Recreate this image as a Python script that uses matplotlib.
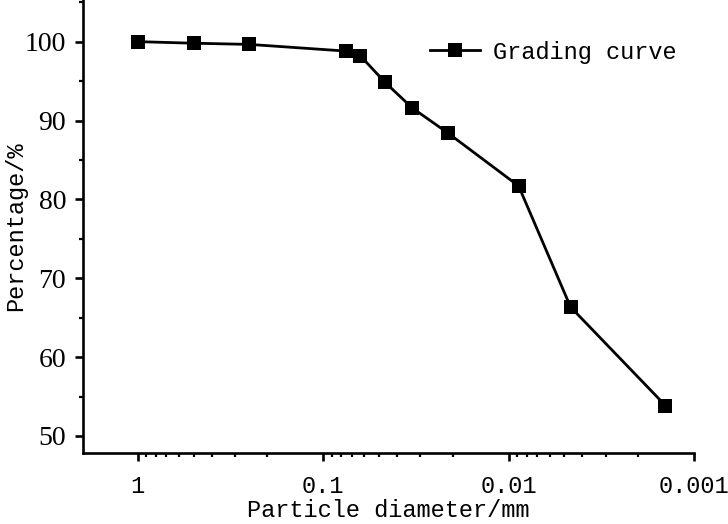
import matplotlib
matplotlib.use("Agg")
import matplotlib.pyplot as plt
from matplotlib.ticker import FixedLocator, FixedFormatter, LogLocator, NullFormatter, MultipleLocator

diameter_mm = [1.0, 0.5, 0.25, 0.075, 0.063, 0.0464, 0.0331, 0.0212, 0.00883, 0.00463, 0.001425]
percentage = [100.0, 99.8, 99.65, 98.8, 98.2, 94.85, 91.6, 88.4, 81.7, 66.35, 53.85]
x_ticks = [1, 0.1, 0.01, 0.001]
x_tick_labels = ["1", "0.1", "0.01", "0.001"]
y_ticks = [50, 60, 70, 80, 90, 100]
series_name = "Grading curve"

mono = ["Liberation Mono", "DejaVu Sans Mono"]
serif = ["Liberation Serif", "DejaVu Serif"]

fig = plt.figure(figsize=(7.28, 5.24), dpi=100)
ax = fig.add_axes([82.7/728, 1-453/524, (694-82.7)/728, 453/524])

ax.plot(diameter_mm, percentage, color="black", lw=2.0, marker="s", ms=10,
        markeredgewidth=0, label=series_name)

ax.set_xscale("log")
ax.set_xlim(1.98, 0.001)
ax.set_ylim(47.84, 105.28)

ax.xaxis.set_major_locator(FixedLocator(x_ticks))
ax.xaxis.set_major_formatter(FixedFormatter(x_tick_labels))
ax.xaxis.set_minor_locator(LogLocator(base=10, subs=range(2, 10), numticks=20))
ax.xaxis.set_minor_formatter(NullFormatter())
ax.yaxis.set_major_locator(FixedLocator(y_ticks))
ax.yaxis.set_minor_locator(MultipleLocator(5))

for s in ["top", "right"]:
    ax.spines[s].set_visible(False)
for s in ["left", "bottom"]:
    ax.spines[s].set_linewidth(1.9)

ax.tick_params(axis="both", which="major", direction="out", length=6, width=1.9)
ax.tick_params(axis="both", which="minor", direction="out", length=3, width=1.6)
ax.tick_params(axis="x", which="major", pad=10)
ax.tick_params(axis="y", which="major", pad=6)

for lab in ax.get_xticklabels():
    lab.set_fontfamily(mono)
    lab.set_fontsize(17)
for lab in ax.get_yticklabels():
    lab.set_fontfamily(serif)
    lab.set_fontsize(20)

ax.set_xlabel("Particle diameter/mm", fontfamily=mono, fontsize=17)
ax.xaxis.set_label_coords(0.5, (1 - 522/524 - (1-453/524)) / (453/524) + 0.0)
ax.xaxis.label.set_va("bottom")
ax.set_ylabel("Percentage/%", fontfamily=mono, fontsize=17)
ax.yaxis.set_label_coords((27 - 82.7) / 611.3, 0.5)

leg = ax.legend(loc="center left", bbox_to_anchor=(430/728, 1-52/524),
                bbox_transform=fig.transFigure, frameon=False,
                prop={"family": mono, "size": 17}, handlelength=2.1,
                handletextpad=0.55, borderpad=0, borderaxespad=0)

fig.savefig("out.png", dpi=100)
